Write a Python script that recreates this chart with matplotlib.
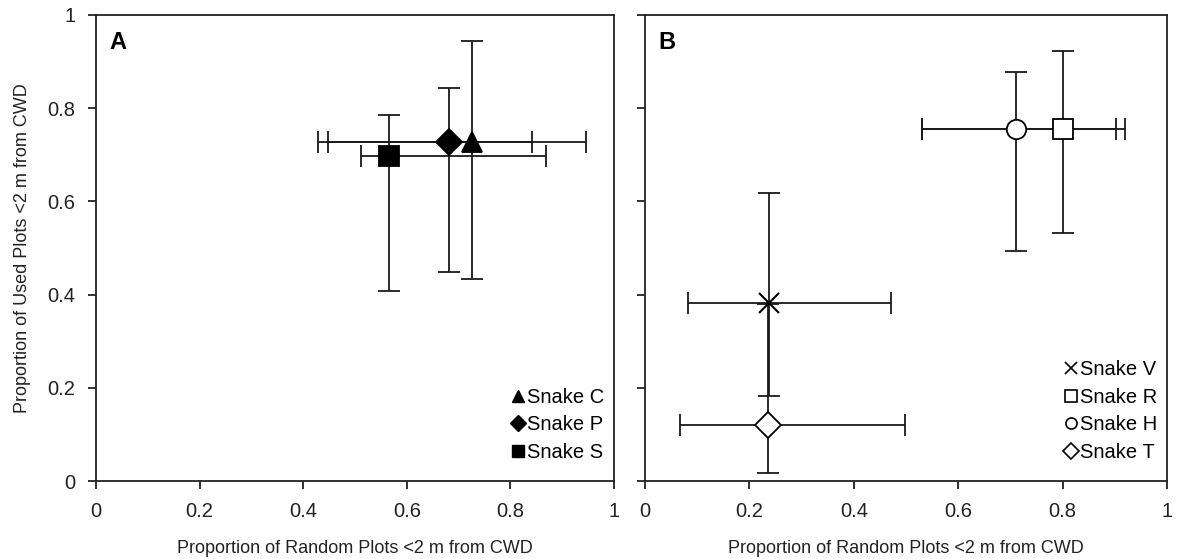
import matplotlib
matplotlib.use("Agg")
import matplotlib.pyplot as plt
from matplotlib.lines import Line2D

plt.rcParams['font.family'] = ['Liberation Sans', 'DejaVu Sans']

# Panel A: snakes C, P, S
a_names = ['Snake C', 'Snake P', 'Snake S']
a_markers = ['^', 'D', 's']
a_x = [0.726, 0.682, 0.566]
a_y = [0.728, 0.728, 0.697]
a_x_lo = [0.428, 0.447, 0.512]
a_x_hi = [0.945, 0.842, 0.868]
a_y_lo = [0.433, 0.449, 0.408]
a_y_hi = [0.945, 0.843, 0.785]

# Panel B: snakes V, R, H, T
b_names = ['Snake V', 'Snake R', 'Snake H', 'Snake T']
b_markers = ['x', 's', 'o', 'D']
b_x = [0.2375, 0.800, 0.710, 0.236]
b_y = [0.383, 0.755, 0.755, 0.120]
b_x_lo = [0.083, 0.531, 0.531, 0.068]
b_x_hi = [0.471, 0.920, 0.902, 0.499]
b_y_lo = [0.183, 0.533, 0.494, 0.0165]
b_y_hi = [0.618, 0.923, 0.878, 0.380]

ticks = [0, 0.2, 0.4, 0.6, 0.8, 1]
tick_labels = ['0', '0.2', '0.4', '0.6', '0.8', '1']
xlabel = 'Proportion of Random Plots <2 m from CWD'
ylabel = 'Proportion of Used Plots <2 m from CWD'

fig = plt.figure(figsize=(11.77, 5.59), dpi=100)
axA = fig.add_axes([0.0816, 0.1395, 0.4401, 0.8337])
axB = fig.add_axes([0.548, 0.1395, 0.4435, 0.8337])

msize = {'^': 14, 'D': 13, 's': 14, 'x': 14, 'o': 14}


def draw(ax, xs, ys, xlo, xhi, ylo, yhi, markers, filled):
    for i in range(len(xs)):
        xerr = [[xs[i] - xlo[i]], [xhi[i] - xs[i]]]
        yerr = [[ys[i] - ylo[i]], [yhi[i] - ys[i]]]
        ax.errorbar([xs[i]], [ys[i]], xerr=xerr, yerr=yerr, fmt='none',
                    ecolor='#1a1a1a', elinewidth=1.3, capsize=8, capthick=1.3, zorder=2)
        m = markers[i]
        if filled or m == 'x':
            fc = 'black'
        else:
            fc = 'white'
        ax.plot([xs[i]], [ys[i]], linestyle='none', marker=m, markersize=msize[m],
                markerfacecolor=fc, markeredgecolor='black',
                markeredgewidth=1.5 if m == 'x' else 1.3, zorder=3)


def style(ax, show_y):
    ax.set_xlim(0, 1)
    ax.set_ylim(0, 1)
    ax.set_xticks(ticks)
    ax.set_yticks(ticks)
    ax.set_xticklabels(tick_labels, fontsize=14.5)
    if show_y:
        ax.set_yticklabels(tick_labels, fontsize=14.5)
    else:
        ax.set_yticklabels([])
    ax.tick_params(direction='out', length=6, width=1.3, pad=9, colors='#222222')
    for s in ax.spines.values():
        s.set_linewidth(1.3)
        s.set_color('#222222')
    ax.set_xlabel(xlabel, fontsize=13, labelpad=14, color='#222222')


draw(axA, a_x, a_y, a_x_lo, a_x_hi, a_y_lo, a_y_hi, a_markers, True)
draw(axB, b_x, b_y, b_x_lo, b_x_hi, b_y_lo, b_y_hi, b_markers, False)
style(axA, True)
style(axB, False)
axA.set_ylabel(ylabel, fontsize=13, labelpad=12, color='#222222')

axA.text(0.025, 0.965, 'A', transform=axA.transAxes, fontsize=17, fontweight='bold', va='top')
axB.text(0.025, 0.965, 'B', transform=axB.transAxes, fontsize=17, fontweight='bold', va='top')

# legends with marker only handles
a_leg_size = {'^': 9, 'D': 8, 's': 9}
hA = [Line2D([], [], linestyle='none', marker=m, color='black', markersize=a_leg_size[m],
             markerfacecolor='black') for m in a_markers]
axA.legend(hA, a_names, loc='lower right', frameon=False, fontsize=14.5,
           handlelength=0.6, handletextpad=0.15, labelspacing=0.42,
           borderaxespad=0.1, bbox_to_anchor=(1.0, 0.02))
hB = []
for m in b_markers:
    hB.append(Line2D([], [], linestyle='none', marker=m, color='black', markersize=8,
                     markerfacecolor='white', markeredgewidth=1.2))
axB.legend(hB, b_names, loc='lower right', frameon=False, fontsize=14.5,
           handlelength=0.6, handletextpad=0.15, labelspacing=0.42,
           borderaxespad=0.1, bbox_to_anchor=(1.0, 0.02))

fig.savefig('out.png', dpi=100)
